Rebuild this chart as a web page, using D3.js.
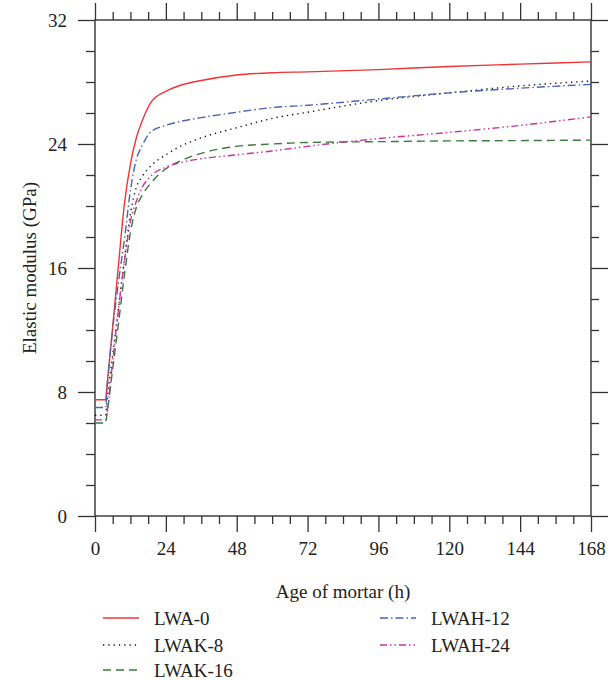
<!DOCTYPE html>
<html lang="en">
<head>
    <meta charset="UTF-8">
    <title>Elastic modulus vs age of mortar</title>
    <script src="https://d3js.org/d3.v7.min.js"></script>
    <style>
        body { margin: 0; background: white; }
        .axis path { display: none; }
        .axis line { stroke: #333; stroke-width: 1.3; }
    </style>
</head>
<body>
    <div id="chart"></div>
    <script>
        // data
        var ages   = [0, 3.6, 4, 6, 8, 10, 12, 14, 16, 19, 24, 30, 36, 48, 60, 72, 96, 120, 144, 168];
        var lwa0   = [7.5, 7.5, 8.3, 12.2, 16.3, 20.2, 22.7, 24.4, 25.5, 26.7, 27.4, 27.85, 28.1, 28.45, 28.6, 28.65, 28.8, 29.0, 29.15, 29.3];
        var lwak8  = [6.5, 6.5, 7.3, 10.4, 13.5, 16.6, 19.5, 21.2, 21.9, 22.6, 23.3, 23.95, 24.4, 25.05, 25.65, 26.05, 26.8, 27.3, 27.75, 28.06];
        var lwak16 = [6.0, 6.0, 6.5, 9.5, 12.5, 15.6, 18.3, 19.9, 20.7, 21.5, 22.4, 23.0, 23.4, 23.85, 24.0, 24.1, 24.15, 24.2, 24.22, 24.25];
        var lwah12 = [7.0, 7.0, 8.0, 12.1, 15.15, 17.9, 21.0, 23.0, 23.9, 24.8, 25.2, 25.5, 25.7, 26.05, 26.35, 26.5, 26.9, 27.3, 27.6, 27.85];
        var lwah24 = [6.2, 6.2, 6.6, 10.0, 13.4, 16.5, 19.0, 20.3, 21.2, 21.95, 22.5, 22.85, 23.05, 23.3, 23.55, 23.85, 24.35, 24.75, 25.2, 25.75];

        var xMajor = [0, 24, 48, 72, 96, 120, 144, 168];
        var yMajor = [0, 8, 16, 24, 32];

        var series = [
            {name: "LWA-0",    values: lwa0,   color: "#ee3535", dash: null,             col: 0, row: 0},
            {name: "LWAK-8",   values: lwak8,  color: "#111111", dash: "1.3,4",          col: 0, row: 1},
            {name: "LWAK-16",  values: lwak16, color: "#3b7a3b", dash: "8,5",            col: 0, row: 2},
            {name: "LWAH-12",  values: lwah12, color: "#4a64b8", dash: "8,3,1.5,3",      col: 1, row: 0},
            {name: "LWAH-24",  values: lwah24, color: "#cc3399", dash: "7,3,1.5,3,1.5,3", col: 1, row: 1}
        ];

        var FONT = "Liberation Serif, DejaVu Serif, serif";
        var FS = 19;

        var W = 615, H = 680;
        var margin = {left: 95, top: 20};
        var w = 496, h = 496;

        var svg = d3.select("#chart").append("svg")
                    .attr("width", W)
                    .attr("height", H)
                    .style("font-family", FONT);

        var g = svg.append("g")
                   .attr("transform", "translate(" + margin.left + "," + margin.top + ")");

        var xScale = d3.scaleLinear().domain([0, 168]).range([0, w]);
        var yScale = d3.scaleLinear().domain([0, 32]).range([h, 0]);

        var xMinor = d3.range(0, 169, 6).filter(function(d) { return d % 24 != 0; });
        var yMinor = d3.range(0, 33, 2).filter(function(d) { return d % 8 != 0; });

        function styleAxis(sel) {
            sel.attr("class", "axis")
               .attr("font-family", null)
               .attr("font-size", null);
            sel.selectAll("text")
               .attr("fill", "#222")
               .style("font-family", FONT)
               .style("font-size", FS + "px");
        }

        // bottom
        g.append("g").attr("transform", "translate(0," + h + ")")
         .call(d3.axisBottom(xScale).tickValues(xMajor).tickSize(16).tickPadding(10)).call(styleAxis);
        g.append("g").attr("transform", "translate(0," + h + ")")
         .call(d3.axisBottom(xScale).tickValues(xMinor).tickSize(8).tickFormat("")).call(styleAxis);
        // top
        g.append("g")
         .call(d3.axisTop(xScale).tickValues(xMajor).tickSize(17).tickFormat("")).call(styleAxis);
        g.append("g")
         .call(d3.axisTop(xScale).tickValues(xMinor).tickSize(8).tickFormat("")).call(styleAxis);
        // left
        g.append("g")
         .call(d3.axisLeft(yScale).tickValues(yMajor).tickSize(17).tickPadding(11)).call(styleAxis);
        g.append("g")
         .call(d3.axisLeft(yScale).tickValues(yMinor).tickSize(9).tickFormat("")).call(styleAxis);
        // right
        g.append("g").attr("transform", "translate(" + w + ",0)")
         .call(d3.axisRight(yScale).tickValues(yMajor).tickSize(17).tickFormat("")).call(styleAxis);
        g.append("g").attr("transform", "translate(" + w + ",0)")
         .call(d3.axisRight(yScale).tickValues(yMinor).tickSize(8).tickFormat("")).call(styleAxis);

        g.append("rect")
         .attr("width", w).attr("height", h)
         .attr("fill", "none")
         .attr("stroke", "#333")
         .attr("stroke-width", 1.4);

        var line = d3.line()
                     .x(function(d) { return xScale(d[0]); })
                     .y(function(d) { return yScale(d[1]); })
                     .curve(d3.curveMonotoneX);

        series.forEach(function(s) {
            var pts = ages.map(function(a, i) { return [a, s.values[i]]; });
            g.append("path")
             .datum(pts)
             .attr("d", line)
             .attr("fill", "none")
             .attr("stroke", s.color)
             .attr("stroke-width", 1.4)
             .attr("stroke-dasharray", s.dash);
        });

        // axis titles
        svg.append("text")
           .attr("x", margin.left + w / 2)
           .attr("y", 598)
           .attr("text-anchor", "middle")
           .style("font-family", FONT)
           .style("font-size", FS + "px")
           .attr("fill", "#222")
           .text("Age of mortar (h)");

        svg.append("text")
           .attr("transform", "translate(36," + (margin.top + h / 2) + ") rotate(-90)")
           .attr("text-anchor", "middle")
           .style("font-family", FONT)
           .style("font-size", FS + "px")
           .attr("fill", "#222")
           .text("Elastic modulus (GPa)");

        // legend
        var legend = svg.append("g");
        var colX = [103, 380];
        var rowY = [618, 645, 670];

        series.forEach(function(s) {
            var lx = colX[s.col], ly = rowY[s.row];
            legend.append("line")
                  .attr("x1", lx).attr("x2", lx + 36)
                  .attr("y1", ly).attr("y2", ly)
                  .attr("stroke", s.color)
                  .attr("stroke-width", 1.4)
                  .attr("stroke-dasharray", s.dash);
            legend.append("text")
                  .attr("x", lx + 51)
                  .attr("y", ly)
                  .attr("dy", "0.35em")
                  .style("font-family", FONT)
                  .style("font-size", FS + "px")
                  .attr("fill", "#222")
                  .text(s.name);
        });
    </script>
</body>
</html>
